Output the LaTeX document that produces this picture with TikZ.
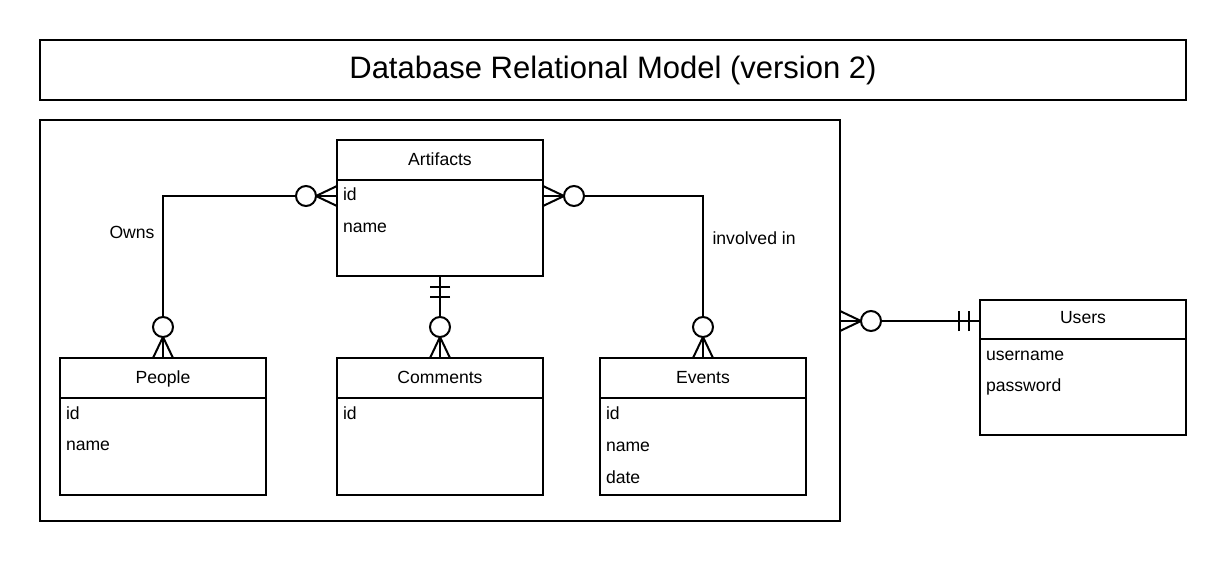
\documentclass[tikz,border=0pt]{standalone}
\usepackage{fontspec}
\setmainfont{Liberation Sans}
\usetikzlibrary{calc}
\begin{document}
\begin{tikzpicture}[x=1pt,y=-1pt,line width=2pt,
  box/.style={draw,rectangle,inner sep=0pt,outer sep=0pt,anchor=north west},
  ent/.style={box,minimum width=206pt},
  txt/.style={inner sep=0pt,font=\fontsize{17.6}{20}\selectfont},
  attr/.style={txt,anchor=base west},
  ttl/.style={txt,anchor=base},
  zmany/.pic={\draw (0,-10) -- (21,0) -- (0,10); \draw (0,0) -- (21,0);
              \draw[fill=white] (31,0) circle[radius=10pt];},
  oneone/.pic={\draw (11,-10) -- (11,10); \draw (21,-10) -- (21,10);}]
\useasboundingbox (0,0) rectangle (1226,562);
\fill[white] (0,0) rectangle (1226,562);
% frames
\node[box,minimum width=1146pt,minimum height=60pt] (title) at (40,40) {};
\node[txt,anchor=base,font=\fontsize{31}{36}\selectfont] (titletxt) at (613,78) {Database Relational Model (version 2)};
\node[box,minimum width=800pt,minimum height=401pt] (cont) at (40,120) {};
% entities
\node[ent,minimum height=136pt] (art) at (337,140) {};
\node[ent,minimum height=137pt] (ppl) at (60,358) {};
\node[ent,minimum height=137pt] (com) at (337,358) {};
\node[ent,minimum height=137pt] (evt) at (600,358) {};
\node[ent,minimum height=135pt] (usr) at (980,300) {};
\draw ($(art.north west)+(0,40)$) -- ($(art.north east)+(0,40)$);
\draw ($(ppl.north west)+(0,40)$) -- ($(ppl.north east)+(0,40)$);
\draw ($(com.north west)+(0,40)$) -- ($(com.north east)+(0,40)$);
\draw ($(evt.north west)+(0,40)$) -- ($(evt.north east)+(0,40)$);
\draw ($(usr.north west)+(0,39)$) -- ($(usr.north east)+(0,39)$);
% titles
\node[ttl] (artT) at ($(art.north)+(0,25)$) {Artifacts};
\node[ttl] (pplT) at ($(ppl.north)+(0,25)$) {People};
\node[ttl] (comT) at ($(com.north)+(0,25)$) {Comments};
\node[ttl] (evtT) at ($(evt.north)+(0,25)$) {Events};
\node[ttl] (usrT) at ($(usr.north)+(0,23)$) {Users};
% attributes
\node[attr] (a1) at (342,200) {id};
\node[attr] (a2) at (342,232) {name};
\node[attr] (p1) at (65,419) {id};
\node[attr] (p2) at (65,450) {name};
\node[attr] (c1) at (342,419) {id};
\node[attr] (e1) at (605,419) {id};
\node[attr] (e2) at (605,451) {name};
\node[attr] (e3) at (605,483) {date};
\node[attr] (u1) at (985,360) {username};
\node[attr] (u2) at (985,391) {password};
% connector points
\coordinate (artL) at ($(art.north west)+(0,56)$);
\coordinate (artR) at ($(art.north east)+(0,56)$);
\coordinate (usrL) at ($(usr.north west)+(0,21)$);
\coordinate (contR) at (cont.east |- usrL);
% connectors
\draw (artL) -| (ppl.north);
\draw (artR) -| (evt.north);
\draw (art.south) -- (com.north);
\draw (contR) -- (usrL);
% ends
\pic[rotate=180] at (artL) {zmany};
\pic at (artR) {zmany};
\pic[rotate=90] at (ppl.north) {zmany};
\pic[rotate=90] at (com.north) {zmany};
\pic[rotate=90] at (evt.north) {zmany};
\pic[rotate=-90] at (art.south) {oneone};
\pic at (contR) {zmany};
\pic[rotate=180] at (usrL) {oneone};
% labels
\node[ttl] (owns) at (132,238) {Owns};
\node[attr] (inv) at (711.5,244) {involved in};
\end{tikzpicture}
\end{document}
